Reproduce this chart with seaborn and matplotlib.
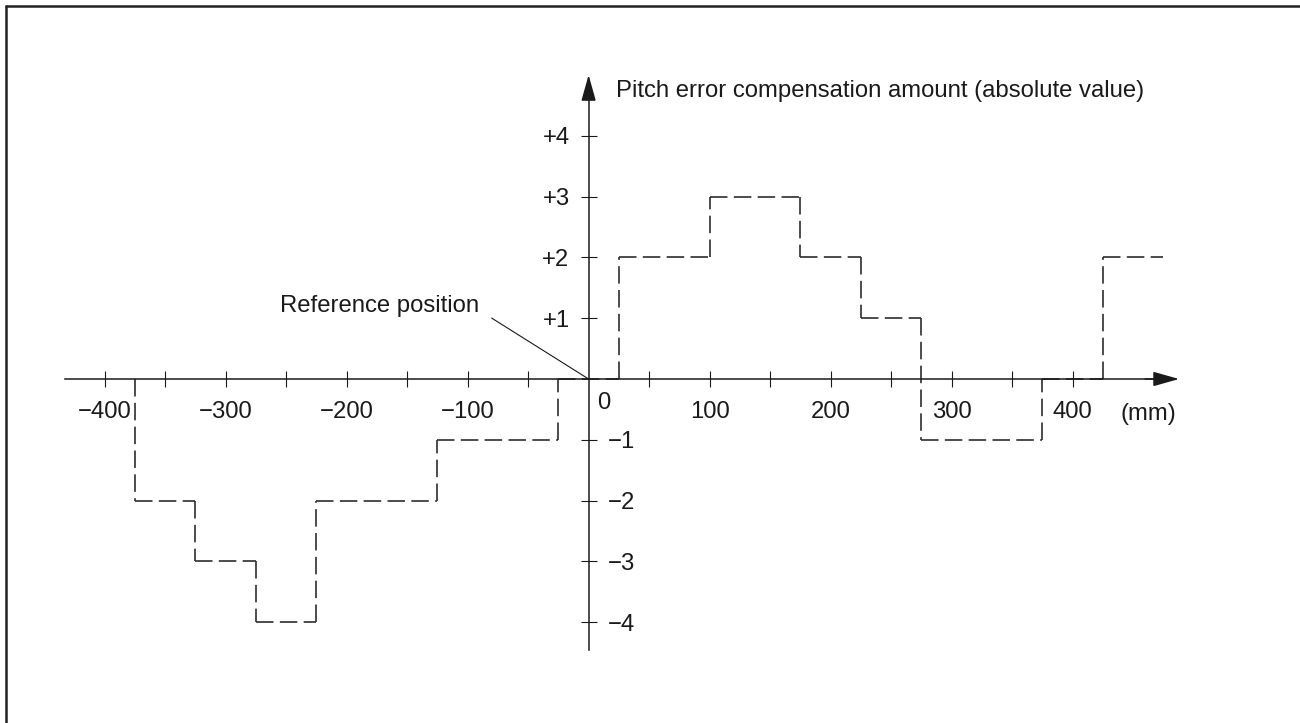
import numpy as np
import pandas as pd
import matplotlib
matplotlib.use("Agg")
import matplotlib.pyplot as plt
import seaborn as sns

# step edges (mm) and the compensation amount held between each pair of edges
edges_mm = [-375, -325, -275, -225, -125, -25, 25, 100, 175, 225, 275, 375, 425, 475]
levels = [-2, -3, -4, -2, -1, 0, 2, 3, 2, 1, -1, 0, 2]

x_ticks = [-400, -350, -300, -250, -200, -150, -100, -50,
           50, 100, 150, 200, 250, 300, 350, 400]
x_ticklabels = ["−400", "", "−300", "", "−200", "", "−100", "",
                "", "100", "", "200", "", "300", "", "400"]
y_ticks = [-4, -3, -2, -1, 1, 2, 3, 4]
y_ticklabels = ["−4", "−3", "−2", "−1", "+1", "+2", "+3", "+4"]

# every vertical / horizontal piece of the step is its own unit (dashes restart at corners)
rows = []
prev = 0
seg = 0
for i, lvl in enumerate(levels):
    x0, x1 = edges_mm[i], edges_mm[i + 1]
    if lvl != prev:
        rows += [(seg, x0, prev), (seg, x0, lvl)]
        seg += 1
    rows += [(seg, x0, lvl), (seg, x1, lvl)]
    seg += 1
    prev = lvl
steps = pd.DataFrame(rows, columns=["seg", "pos", "amount"])

sns.set_theme(style="white")
plt.rcParams["font.family"] = ["Liberation Sans", "DejaVu Sans"]
ink = "#1a1a1a"
fs = 17.2

fig = plt.figure(figsize=(13, 7.23), dpi=100)
ax = fig.add_axes([0, 0, 1, 1])
ax.set_facecolor("white")

sns.lineplot(data=steps, x="pos", y="amount", units="seg", estimator=None, sort=False,
             color="#2e2e2e", lw=1.2, linestyle=(0, (10.5, 3.8)), legend=False, ax=ax)

# pixel mapping: 0 mm at x=588.6 px, 1.21 px/mm ; 0 at y=379 px, 60.8 px/unit
ax.set_xlim(-588.6 / 1.21, (1300 - 588.6) / 1.21)
ax.set_ylim(-(723 - 379) / 60.8, 379 / 60.8)
ax.set_xlabel("")
ax.set_ylabel("")

for s in ["top", "right"]:
    ax.spines[s].set_visible(False)
ax.spines["bottom"].set_position(("data", 0))
ax.spines["left"].set_position(("data", 0))
ax.spines["right"].set_position(("data", 0))
ax.spines["bottom"].set_bounds(-432.7, 480)
ax.spines["left"].set_bounds(-4.46, 4.9)
for s in ["bottom", "left"]:
    ax.spines[s].set_color(ink)
    ax.spines[s].set_linewidth(1.1)
    ax.spines[s].set_zorder(3)

ax.set_xticks(x_ticks, x_ticklabels)
ax.set_yticks(y_ticks, y_ticklabels)
ax.tick_params(axis="both", direction="inout", length=11.5, width=0.8, color=ink,
               labelcolor=ink, labelsize=fs)
ax.tick_params(axis="x", bottom=True, pad=10)
ax.tick_params(axis="y", left=True, right=False, labelright=True, pad=8)
for t, v in zip(ax.yaxis.get_major_ticks(), y_ticks):
    t.label1.set_visible(v > 0)
    t.label2.set_visible(v < 0)

arrow = dict(arrowstyle="-|>,head_length=1.6,head_width=0.45", color=ink, lw=1.1,
             shrinkA=0, shrinkB=0, mutation_scale=10)
ax.annotate("", xy=(488, 0), xytext=(460, 0), arrowprops=arrow, zorder=4)
ax.annotate("", xy=(0, 5.0), xytext=(0, 4.6), arrowprops=arrow, zorder=4)

ax.text(23, 4.63, "Pitch error compensation amount (absolute value)",
        ha="left", va="baseline", fontsize=fs, color=ink)
ax.text(12.5, -0.39, "0", ha="center", va="center", fontsize=fs, color=ink)
ax.text(463, -0.58, "(mm)", ha="center", va="center", fontsize=fs, color=ink)
ax.annotate("Reference position", xy=(0, 0), xytext=(-90.6, 1.107),
            ha="right", va="baseline", fontsize=fs, color=ink,
            arrowprops=dict(arrowstyle="-", color=ink, lw=0.8,
                            relpos=(1.0, 0.3), shrinkA=8, shrinkB=0))

# page frame (left and top edges only)
fig.add_artist(plt.Line2D([6 / 1300, 6 / 1300], [0, 1 - 5.5 / 723],
                          transform=fig.transFigure, lw=1.8, color="#222222"))
fig.add_artist(plt.Line2D([6 / 1300, 1], [1 - 5.5 / 723, 1 - 5.5 / 723],
                          transform=fig.transFigure, lw=1.8, color="#222222"))

fig.savefig("out.png", dpi=100, facecolor="white")
